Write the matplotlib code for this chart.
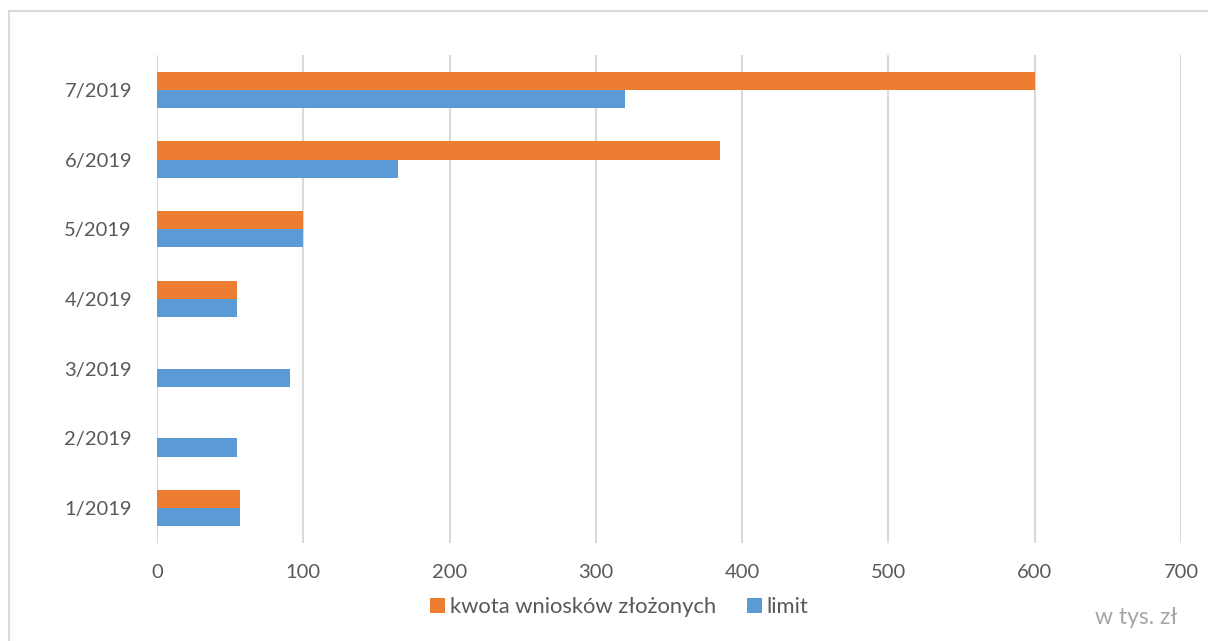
import matplotlib
matplotlib.use("Agg")
import matplotlib.pyplot as plt
from matplotlib.patches import Rectangle
import numpy as np

categories = ["1/2019", "2/2019", "3/2019", "4/2019", "5/2019", "6/2019", "7/2019"]
kwota = [57, 0, 0, 55, 100, 385, 600]
limit = [57, 55, 91, 55, 100, 165, 320]
xticks = [0, 100, 200, 300, 400, 500, 600, 700]

plt.rcParams['font.family'] = ['Lato', 'DejaVu Sans']
W, H = 1208, 641
fig = plt.figure(figsize=(W/100, H/100), dpi=100)
fig.patches.append(Rectangle((9/W, -0.1), 1.2, (H-11)/H + 0.1, transform=fig.transFigure,
                             fill=False, edgecolor='#d9d9d9', linewidth=1.5))
ax = fig.add_axes([157/W, 1-543/H, (1181-157)/W, (543-55)/H])

orange = '#ed7d31'
blue = '#5b9bd5'
y = np.arange(len(categories))
h = 0.26
ax.barh(y + h/2, kwota, height=h, color=orange, label='kwota wniosków złożonych', zorder=3)
ax.barh(y - h/2, limit, height=h, color=blue, label='limit', zorder=3)

ax.set_xlim(0, 700)
ax.set_ylim(-0.5, 6.5)
ax.set_xticks(xticks)
ax.set_yticks(y)
ax.set_yticklabels(categories)
ax.grid(axis='x', color='#d9d9d9', linewidth=1.5, zorder=0)
for s in ax.spines.values():
    s.set_visible(False)
ax.tick_params(axis='both', length=0, labelsize=14.5, labelcolor='#595959')
ax.tick_params(axis='x', pad=15)
ax.tick_params(axis='y', pad=18)

leg = fig.legend(loc='center', bbox_to_anchor=(619/W, 1-607/H), ncol=2, frameon=False,
                 fontsize=15.8, handlelength=0.7, handleheight=0.7, handletextpad=0.2,
                 columnspacing=1.4)
for t in leg.get_texts():
    t.set_color('#595959')

fig.text(1177/W, 1-618/H, 'w tys. zł', ha='right', va='center', fontsize=16.5, color='#a6a6a6')

fig.savefig('out.png', dpi=100)
